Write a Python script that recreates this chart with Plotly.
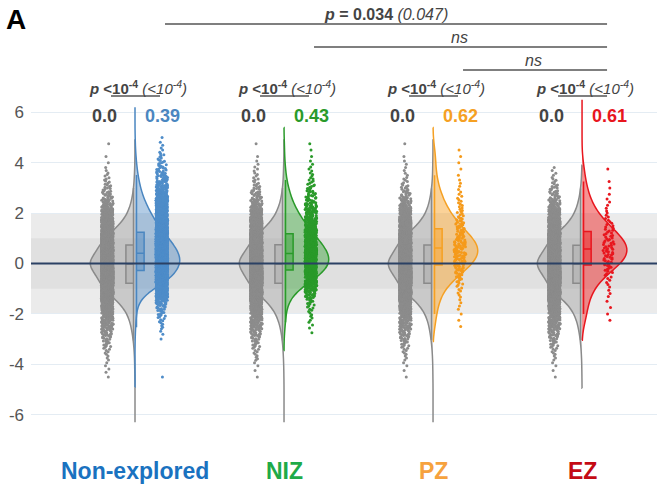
import plotly.graph_objects as go

# ---------------- data ----------------
GROUPS = ["Non-explored", "NIZ", "PZ", "EZ"]
CASE_MEDIAN_TEXT = ["0.39", "0.43", "0.62", "0.61"]
CONTROL_MEDIAN_TEXT = ["0.0", "0.0", "0.0", "0.0"]
PAIR_P_TEXT = ["p <10-4 (<10-4)"] * 4
BRACKET_TEXT = ["p = 0.034 (0.047)", "ns", "ns"]
Y_TICKS = [-6, -4, -2, 0, 2, 4, 6]

# histogram bins (value levels, width 0.25) and counts per bin
BIN_WIDTH = 0.25
LEVELS = [-4.5, -4.25, -4.0, -3.75, -3.5, -3.25, -3.0, -2.75, -2.5, -2.25,
          -2.0, -1.75, -1.5, -1.25, -1.0, -0.75, -0.5, -0.25, 0.0, 0.25,
          0.5, 0.75, 1.0, 1.25, 1.5, 1.75, 2.0, 2.25, 2.5, 2.75,
          3.0, 3.25, 3.5, 3.75, 4.0, 4.25, 4.5, 4.75, 5.0, 5.25]

CONTROL_NONEXPLORED = [1, 2, 2, 3, 5, 8, 12, 18, 25, 35, 50, 75, 110, 160, 205, 225, 245, 275, 310, 275,
                       245, 225, 200, 150, 105, 70, 48, 32, 22, 14, 9, 6, 4, 2, 1, 1, 0, 1, 0, 0]
CONTROL_NIZ = [1, 1, 2, 4, 5, 8, 12, 17, 25, 36, 52, 76, 112, 158, 200, 228, 248, 272, 305, 278,
               242, 222, 198, 152, 108, 72, 50, 33, 21, 15, 9, 6, 4, 3, 2, 1, 0, 1, 0, 0]
CONTROL_PZ = [1, 1, 2, 3, 5, 8, 13, 18, 26, 34, 51, 74, 108, 160, 204, 224, 246, 276, 308, 272,
              246, 226, 202, 148, 104, 70, 47, 31, 22, 14, 9, 5, 3, 2, 2, 1, 0, 1, 0, 0]
CONTROL_EZ = [1, 1, 2, 3, 5, 8, 12, 18, 25, 35, 50, 75, 110, 160, 205, 225, 245, 275, 310, 275,
              245, 225, 200, 150, 105, 70, 48, 32, 22, 14, 9, 5, 3, 2, 0, 0, 0, 0, 0, 0]

CASE_NONEXPLORED = [1, 0, 0, 0, 0, 0, 1, 2, 4, 6, 9, 14, 25, 60, 110, 175, 230, 250, 275, 270,
                    255, 230, 200, 170, 140, 115, 95, 75, 58, 44, 33, 25, 18, 13, 9, 6, 3, 2, 1, 0]
CASE_NIZ = [0, 0, 0, 0, 0, 0, 0, 1, 2, 3, 4, 6, 9, 18, 30, 48, 68, 82, 90, 90,
            84, 75, 65, 54, 45, 36, 28, 22, 16, 12, 9, 6, 4, 3, 2, 1, 1, 1, 0, 0]
CASE_PZ = [0, 0, 0, 0, 0, 0, 0, 0, 1, 1, 1, 2, 2, 3, 4, 6, 9, 12, 15, 17,
           18, 17, 15, 12, 10, 8, 6, 5, 4, 3, 2, 2, 1, 1, 1, 1, 1, 0, 0, 0]
CASE_EZ = [0, 0, 0, 0, 0, 0, 0, 0, 0, 1, 1, 1, 1, 2, 2, 3, 4, 6, 8, 9,
           10, 9, 8, 7, 5, 4, 3, 2, 2, 1, 1, 1, 0, 1, 0, 0, 0, 0, 0, 0]

# extent of the violin outlines
CONTROL_SPAN = [[-6.3, 4.9], [-6.3, 4.9], [-6.3, 4.9], [-4.95, 3.9]]
CASE_SPAN = [[-4.9, 6.2], [-3.45, 5.4], [-3.1, 5.4], [-3.05, 6.5]]

CONTROLS = [CONTROL_NONEXPLORED, CONTROL_NIZ, CONTROL_PZ, CONTROL_EZ]
CASES = [CASE_NONEXPLORED, CASE_NIZ, CASE_PZ, CASE_EZ]

# ---------------- styles ----------------
FONT = "Arial, Liberation Sans, sans-serif"
LABEL_COLORS = ["#1a72c0", "#1faa48", "#f6a23e", "#c40a14"]
CASE_LINE = ["#4a86c0", "#2a9a2a", "#f5a023", "#e8161e"]
CASE_FILL = ["rgba(74,134,192,0.42)", "rgba(50,160,50,0.45)", "rgba(248,165,50,0.5)", "rgba(238,40,40,0.5)"]
CASE_POINT = ["#4f8dc9", "#2a9a2a", "#f59a1a", "#e8161e"]
GRAY_LINE = "#8a8a8a"
GRAY_FILL = "rgba(150,150,150,0.4)"
GRAY_POINT = "#8c8c8c"

W, H, ML = 657, 487, 31
XMIN, XMAX = -0.698, 3.503
YMIN, YMAX = -8.869, 10.456
PPU_X = (W - ML) / (XMAX - XMIN)
PPU_Y = H / (YMAX - YMIN)


def expand(counts):
    vals = []
    for lev, n in zip(LEVELS, counts):
        for k in range(n):
            vals.append(lev + BIN_WIDTH * ((k + 0.5) / n - 0.5))
    return vals


def ypx(py):
    return YMAX - py / PPU_Y


def xoff(px):
    return px / PPU_X


fig = go.Figure()

for i in range(4):
    fig.add_trace(go.Violin(
        x0=i, y=expand(CONTROLS[i]), side="negative", width=0.6,
        line=dict(color=GRAY_LINE, width=1.5), fillcolor=GRAY_FILL,
        points="all", pointpos=-0.62, jitter=0.13,
        marker=dict(size=3, color=GRAY_POINT, line=dict(width=0)),
        box=dict(visible=True, width=0.34, fillcolor="rgba(175,175,175,0.6)",
                 line=dict(color=GRAY_LINE, width=1.5)),
        spanmode="manual", span=CONTROL_SPAN[i],
        showlegend=False, hoverinfo="skip"))
    fig.add_trace(go.Violin(
        x0=i, y=expand(CASES[i]), side="positive", width=0.6,
        line=dict(color=CASE_LINE[i], width=1.5), fillcolor=CASE_FILL[i],
        points="all", pointpos=0.6, jitter=0.13,
        marker=dict(size=3, color=CASE_POINT[i], line=dict(width=0)),
        box=dict(visible=True, width=0.34, fillcolor=CASE_FILL[i],
                 line=dict(color=CASE_LINE[i], width=1.5)),
        spanmode="manual", span=CASE_SPAN[i],
        showlegend=False, hoverinfo="skip"))

shapes = [
    dict(type="rect", xref="paper", x0=0, x1=1, yref="y", y0=-2, y1=2,
         fillcolor="#ebebeb", line=dict(width=0), layer="below"),
    dict(type="rect", xref="paper", x0=0, x1=1, yref="y", y0=-1, y1=1,
         fillcolor="#e0e0e0", line=dict(width=0), layer="below"),
    dict(type="line", xref="paper", x0=0, x1=1, yref="y", y0=0, y1=0,
         line=dict(color="#2b4164", width=2), layer="above"),
]

# comparison brackets between groups (to EZ)
bracket_rows = [(0, 24), (1, 47), (2, 70)]
for g, py in bracket_rows:
    shapes.append(dict(type="line", xref="x", yref="y",
                       x0=g + xoff(30), x1=3 + xoff(25), y0=ypx(py), y1=ypx(py),
                       line=dict(color="#555555", width=1.6)))
# per-group underline
for i in range(4):
    shapes.append(dict(type="line", xref="x", yref="y",
                       x0=i - xoff(24), x1=i + xoff(25), y0=ypx(96), y1=ypx(96),
                       line=dict(color="#555555", width=1.6)))

ann = []
ann.append(dict(text="<b>A</b>", xref="paper", yref="y", x=(4 - ML) / (W - ML), y=ypx(19),
                xanchor="left", yanchor="middle", showarrow=False,
                font=dict(family=FONT, size=28, color="#000000")))
ann.append(dict(text="<b><i>p</i> = 0.034</b> <i>(0.047)</i>", xref="x", yref="y",
                x=1 + xoff(102), y=ypx(14), showarrow=False,
                font=dict(family=FONT, size=16, color="#444444")))
ann.append(dict(text="<i>ns</i>", xref="x", yref="y", x=2 + xoff(26), y=ypx(37),
                showarrow=False, font=dict(family=FONT, size=16, color="#444444")))
ann.append(dict(text="<i>ns</i>", xref="x", yref="y", x=3 + xoff(-49), y=ypx(60),
                showarrow=False, font=dict(family=FONT, size=16, color="#444444")))
for i in range(4):
    ann.append(dict(text="<b><i>p</i> <10<sup>-4</sup></b> <i>(<10<sup>-4</sup>)</i>",
                    xref="x", yref="y", x=i + xoff(3), y=ypx(87), showarrow=False,
                    font=dict(family=FONT, size=15, color="#444444")))
    ann.append(dict(text="<b>" + CONTROL_MEDIAN_TEXT[i] + "</b>", xref="x", yref="y",
                    x=i + xoff(-31), y=ypx(116), showarrow=False,
                    font=dict(family=FONT, size=18, color="#444444")))
    ann.append(dict(text="<b>" + CASE_MEDIAN_TEXT[i] + "</b>", xref="x", yref="y",
                    x=i + xoff(27), y=ypx(116), showarrow=False,
                    font=dict(family=FONT, size=18, color=CASE_LINE[i])))
    ann.append(dict(text="<b>" + GROUPS[i] + "</b>", xref="x", yref="y",
                    x=i, y=ypx(471), showarrow=False,
                    font=dict(family=FONT, size=23, color=LABEL_COLORS[i])))

fig.update_layout(
    width=W, height=H,
    margin=dict(l=ML, r=0, t=0, b=0),
    plot_bgcolor="white", paper_bgcolor="white",
    violinmode="overlay",
    shapes=shapes, annotations=ann,
    hovermode=False,
    xaxis=dict(range=[XMIN, XMAX], type="linear", showgrid=False, zeroline=False,
               showticklabels=False, showline=False, ticks=""),
    yaxis=dict(range=[YMIN, YMAX], tickvals=Y_TICKS, ticktext=[str(v) for v in Y_TICKS],
               showgrid=True, gridcolor="#e4ecf3", gridwidth=1, zeroline=False,
               showline=False, ticks="", ticklabelstandoff=6,
               tickfont=dict(family=FONT, size=17, color="#555555")),
)

fig.write_html("out.html")
